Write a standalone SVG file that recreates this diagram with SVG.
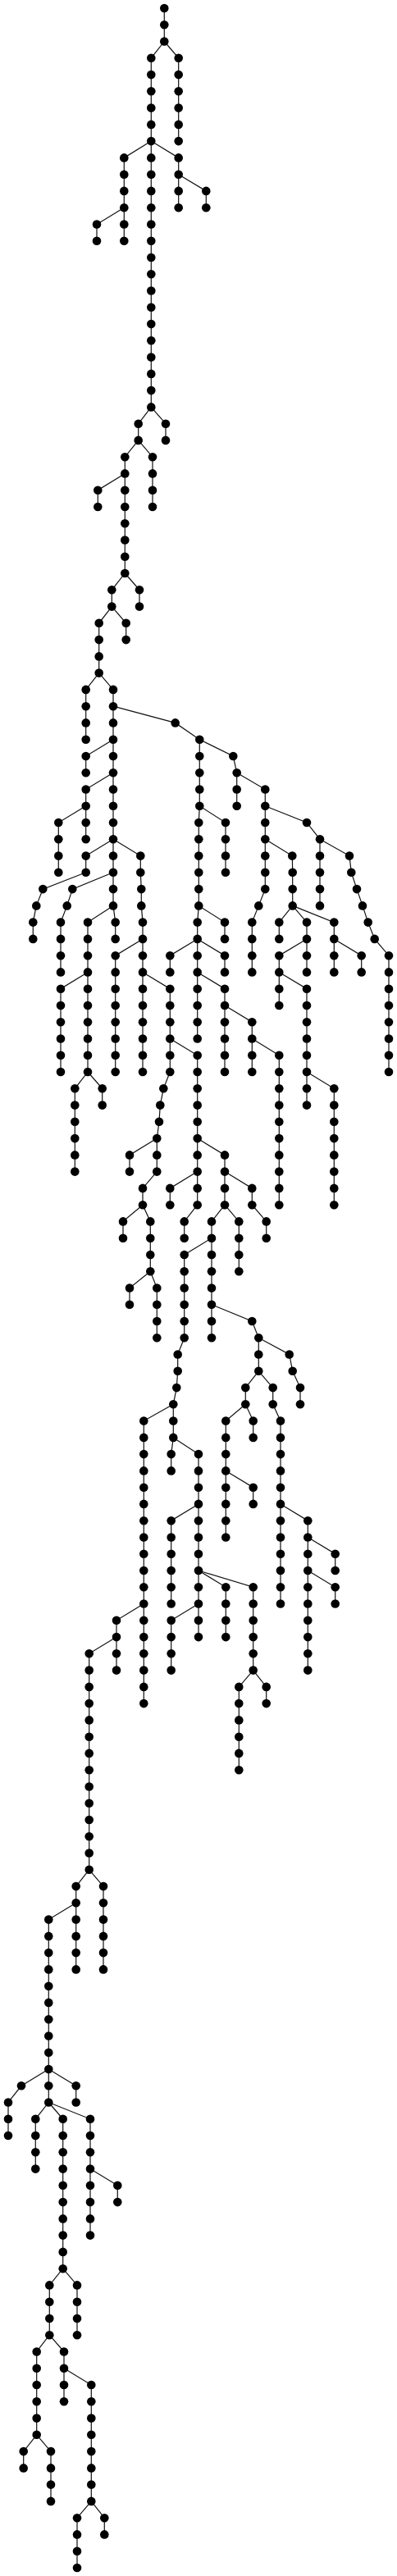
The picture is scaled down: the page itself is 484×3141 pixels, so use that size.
<svg xmlns="http://www.w3.org/2000/svg" width="484" height="3141" viewBox="0 0 484 3141">
<style>
.edges path{fill:none;stroke:#111;stroke-width:1.2}
.nodes circle{r:5.3px;fill:#000}
</style>
<rect width="484" height="3141" fill="#fff"/>
<g class="edges">
<path d="M200.3 10V50.5"/>
<path d="M200.3 50.5L217.7 70.8V172.1"/>
<path d="M200.3 50.5L184.3 70.8V496.4"/>
<path d="M184.3 172.1L151.3 192.4V293.7"/>
<path d="M151.3 253.2L118 273.5V293.7"/>
<path d="M184.3 172.1L217.7 192.4V253.2"/>
<path d="M217.7 212.7L251.3 232.9V253.2"/>
<path d="M184.3 496.4L168.7 516.7V536.9"/>
<path d="M184.3 496.4L202 516.7V536.9"/>
<path d="M168.7 536.9L186 557.2V618"/>
<path d="M168.7 536.9L152.3 557.2V699"/>
<path d="M152.3 577.4L119.3 597.7V618"/>
<path d="M152.3 699L170 719.3V739.6"/>
<path d="M152.3 699L136.3 719.3V739.6"/>
<path d="M136.3 739.6L153.7 759.8V780.1"/>
<path d="M136.3 739.6L120.7 759.8V820.6"/>
<path d="M120.7 820.6L104.7 840.9V901.7"/>
<path d="M120.7 820.6L138 840.9V1104.4"/>
<path d="M138 901.7L104.7 922V942.2"/>
<path d="M138 942.2L104.7 962.5V1023.3"/>
<path d="M104.7 982.8L71.3 1003V1063.8"/>
<path d="M138 1023.3L104.7 1043.6V1063.8"/>
<path d="M138 1023.3L171.3 1043.6V1063.8L172.3 1084.1V1104.4L174 1124.6V1307"/>
<path d="M104.7 1063.8L52.3 1084.1L44.3 1104.4L40.3 1124.6V1144.9"/>
<path d="M138 1063.8L88.3 1084.1L81.7 1104.4L74 1124.6V1185.4"/>
<path d="M138 1104.4L107 1124.6V1307"/>
<path d="M138 1104.4L140.7 1124.6V1144.9"/>
<path d="M107 1185.4L74 1205.7V1307"/>
<path d="M174 1144.9L140.7 1165.2V1307"/>
<path d="M174 1185.4L207.3 1205.7V1307"/>
<path d="M207.3 1266.5L240.7 1286.8V1469.2"/>
<path d="M138 861.2L213.7 881.4L243.3 901.7V982.8L242.3 1003V1104.4L240.7 1124.6V1266.5"/>
<path d="M243.3 901.7L284.3 922L288.7 942.2V982.8"/>
<path d="M288.7 942.2L323.3 962.5V1084.1L315.3 1104.4L307.3 1124.6V1185.4"/>
<path d="M323.3 982.8L374 1003L390 1023.3V1104.4"/>
<path d="M390 1023.3L426 1043.6L428.3 1063.8L435 1084.1L442 1104.4L448.7 1124.6L456.7 1144.9L474 1165.2V1307"/>
<path d="M323.3 1023.3L356.3 1043.6L356.7 1063.8V1104.4"/>
<path d="M243.3 982.8L275 1003V1063.8"/>
<path d="M356.7 1104.4L340.3 1124.6V1144.9"/>
<path d="M356.7 1104.4L374 1124.6V1185.4"/>
<path d="M356.7 1104.4L407.3 1124.6V1185.4"/>
<path d="M407.3 1144.9L440.7 1165.2V1185.4"/>
<path d="M374 1144.9L340.3 1165.2V1226"/>
<path d="M340.3 1185.4L374 1205.7V1347.6"/>
<path d="M242.3 1104.4L274 1124.6V1144.9"/>
<path d="M240.7 1144.9L207.3 1165.2V1185.4"/>
<path d="M240.7 1144.9L274 1165.2V1185.4"/>
<path d="M240.7 1185.4L274 1205.7V1307"/>
<path d="M274 1226L307.3 1246.2V1307"/>
<path d="M307.3 1266.5L340.3 1286.8V1469.2"/>
<path d="M374 1307L407.3 1327.3V1469.2"/>
<path d="M107 1307L91.3 1327.3V1428.6"/>
<path d="M107 1307L124.7 1327.3V1347.6"/>
<path d="M207.3 1307L199.3 1327.3L195.3 1347.6L194 1367.8L191.3 1388.1V1428.6L174 1448.9V1469.2"/>
<path d="M191.3 1388.1L158 1408.4V1428.6"/>
<path d="M174 1469.2L150 1489.4V1509.7"/>
<path d="M174 1469.2L183.3 1489.4V1550.2"/>
<path d="M183.3 1550.2L158 1570.5V1590.7"/>
<path d="M183.3 1550.2L191.3 1570.5V1631.3"/>
<path d="M240.7 1428.6L207.3 1448.9V1469.2"/>
<path d="M240.7 1469.2L224.7 1489.4V1509.7"/>
<path d="M240.7 1388.1L274 1408.4V1469.2"/>
<path d="M274 1428.6L307.3 1448.9V1469.2L324.7 1489.4V1509.7"/>
<path d="M274 1469.2L258 1489.4V1631.3"/>
<path d="M274 1469.2L291.3 1489.4V1550.2"/>
<path d="M258 1509.7L224.7 1530V1631.3L216.7 1651.5V1671.8L215.3 1692.1L211.3 1712.3V1752.9"/>
<path d="M211.3 1712.3L175.3 1732.6V2077.1"/>
<path d="M211.3 1752.9L208.7 1773.1V1793.4"/>
<path d="M211.3 1752.9L242 1773.1V1996.1"/>
<path d="M242 1833.9L208.7 1854.2V1955.5"/>
<path d="M242 1955.5L208.7 1975.8V2036.6"/>
<path d="M242 1915L275.3 1935.3V1996.1"/>
<path d="M242 1915L308.7 1935.3V2036.6"/>
<path d="M308.7 2036.6L291.3 2056.9V2158.2"/>
<path d="M308.7 2036.6L324.7 2056.9V2077.1"/>
<path d="M258 1590.7L307.3 1611L315.3 1631.3V1671.8"/>
<path d="M315.3 1631.3L352.7 1651.5L356.7 1671.8L366 1692.1V1712.3"/>
<path d="M315.3 1671.8L299.3 1692.1V1712.3"/>
<path d="M315.3 1671.8L332.7 1692.1V1712.3L342 1732.6V1955.5"/>
<path d="M299.3 1712.3L275.3 1732.6V1874.5"/>
<path d="M299.3 1712.3L308.7 1732.6V1752.9"/>
<path d="M275.3 1793.4L308.7 1813.7V1833.9"/>
<path d="M342 1833.9L375.3 1854.2V2036.6"/>
<path d="M375.3 1874.5L408.7 1894.7V1915"/>
<path d="M375.3 1915L408.7 1935.3V1955.5"/>
<path d="M175.3 1955.5L142 1975.8V2036.6"/>
<path d="M142 1996.1L108.7 2016.3V2279.8"/>
<path d="M108.7 2279.8L92.7 2300.1V2401.4"/>
<path d="M108.7 2279.8L126 2300.1V2401.4"/>
<path d="M92.7 2320.3L59.3 2340.6V2563.5"/>
<path d="M59.3 2523L26 2543.3L10 2563.5V2604"/>
<path d="M59.3 2523L92.7 2543.3V2563.5"/>
<path d="M59.3 2563.5L43.3 2583.8V2644.6"/>
<path d="M59.3 2563.5L76.7 2583.8V2766.2"/>
<path d="M59.3 2563.5L110 2583.8V2725.6"/>
<path d="M110 2644.6L143.3 2664.8V2685.1"/>
<path d="M76.7 2766.2L60.3 2786.4V2847.2"/>
<path d="M76.7 2766.2L94 2786.4V2847.2"/>
<path d="M60.3 2847.2L44.7 2867.5V2968.8"/>
<path d="M60.3 2847.2L78 2867.5V2928.3"/>
<path d="M44.7 2968.8L28.7 2989.1V3009.4"/>
<path d="M44.7 2968.8L62 2989.1V3049.9"/>
<path d="M78 2887.8L111.3 2908V3049.9"/>
<path d="M111.3 3049.9L94 3070.2V3131"/>
<path d="M111.3 3049.9L127.3 3070.2V3090.4"/>
</g>
<g class="nodes">
<g id="c1a"><circle cx="200.3" cy="10"/></g><g id="c1b"><circle cx="200.3" cy="30.3"/></g><g id="c1c"><circle cx="200.3" cy="50.5"/></g>
<g id="c2a"><circle cx="217.7" cy="70.8"/></g><g id="c2b"><circle cx="217.7" cy="91.1"/></g><g id="c2c"><circle cx="217.7" cy="111.3"/></g><g id="c2d"><circle cx="217.7" cy="131.6"/></g><g id="c2e"><circle cx="217.7" cy="151.9"/></g><g id="c2f"><circle cx="217.7" cy="172.1"/></g>
<g id="c3a"><circle cx="184.3" cy="70.8"/></g><g id="c3b"><circle cx="184.3" cy="91.1"/></g><g id="c3c"><circle cx="184.3" cy="111.3"/></g><g id="c3d"><circle cx="184.3" cy="131.6"/></g><g id="c3e"><circle cx="184.3" cy="151.9"/></g><g id="c3f"><circle cx="184.3" cy="172.1"/></g><g id="c3g"><circle cx="184.3" cy="192.4"/></g><g id="c3h"><circle cx="184.3" cy="212.7"/></g><g id="c3i"><circle cx="184.3" cy="232.9"/></g><g id="c3j"><circle cx="184.3" cy="253.2"/></g><g id="c3k"><circle cx="184.3" cy="273.5"/></g><g id="c3l"><circle cx="184.3" cy="293.7"/></g><g id="c3m"><circle cx="184.3" cy="314"/></g><g id="c3n"><circle cx="184.3" cy="334.3"/></g><g id="c3o"><circle cx="184.3" cy="354.5"/></g><g id="c3p"><circle cx="184.3" cy="374.8"/></g><g id="c3q"><circle cx="184.3" cy="395.1"/></g><g id="c3r"><circle cx="184.3" cy="415.3"/></g><g id="c3s"><circle cx="184.3" cy="435.6"/></g><g id="c3t"><circle cx="184.3" cy="455.9"/></g><g id="c3u"><circle cx="184.3" cy="476.1"/></g><g id="c3v"><circle cx="184.3" cy="496.4"/></g>
<g id="c4a"><circle cx="151.3" cy="192.4"/></g><g id="c4b"><circle cx="151.3" cy="212.7"/></g><g id="c4c"><circle cx="151.3" cy="232.9"/></g><g id="c4d"><circle cx="151.3" cy="253.2"/></g><g id="c4e"><circle cx="151.3" cy="273.5"/></g><g id="c4f"><circle cx="151.3" cy="293.7"/></g>
<g id="c5a"><circle cx="118" cy="273.5"/></g><g id="c5b"><circle cx="118" cy="293.7"/></g>
<g id="c6a"><circle cx="217.7" cy="192.4"/></g><g id="c6b"><circle cx="217.7" cy="212.7"/></g><g id="c6c"><circle cx="217.7" cy="232.9"/></g><g id="c6d"><circle cx="217.7" cy="253.2"/></g>
<g id="c7a"><circle cx="251.3" cy="232.9"/></g><g id="c7b"><circle cx="251.3" cy="253.2"/></g>
<g id="c8a"><circle cx="168.7" cy="516.7"/></g><g id="c8b"><circle cx="168.7" cy="536.9"/></g>
<g id="c9a"><circle cx="202" cy="516.7"/></g><g id="c9b"><circle cx="202" cy="536.9"/></g>
<g id="c10a"><circle cx="186" cy="557.2"/></g><g id="c10b"><circle cx="186" cy="577.4"/></g><g id="c10c"><circle cx="186" cy="597.7"/></g><g id="c10d"><circle cx="186" cy="618"/></g>
<g id="c11a"><circle cx="152.3" cy="557.2"/></g><g id="c11b"><circle cx="152.3" cy="577.4"/></g><g id="c11c"><circle cx="152.3" cy="597.7"/></g><g id="c11d"><circle cx="152.3" cy="618"/></g><g id="c11e"><circle cx="152.3" cy="638.2"/></g><g id="c11f"><circle cx="152.3" cy="658.5"/></g><g id="c11g"><circle cx="152.3" cy="678.8"/></g><g id="c11h"><circle cx="152.3" cy="699"/></g>
<g id="c12a"><circle cx="119.3" cy="597.7"/></g><g id="c12b"><circle cx="119.3" cy="618"/></g>
<g id="c13a"><circle cx="170" cy="719.3"/></g><g id="c13b"><circle cx="170" cy="739.6"/></g>
<g id="c14a"><circle cx="136.3" cy="719.3"/></g><g id="c14b"><circle cx="136.3" cy="739.6"/></g>
<g id="c15a"><circle cx="153.7" cy="759.8"/></g><g id="c15b"><circle cx="153.7" cy="780.1"/></g>
<g id="c16a"><circle cx="120.7" cy="759.8"/></g><g id="c16b"><circle cx="120.7" cy="780.1"/></g><g id="c16c"><circle cx="120.7" cy="800.4"/></g><g id="c16d"><circle cx="120.7" cy="820.6"/></g>
<g id="c17a"><circle cx="104.7" cy="840.9"/></g><g id="c17b"><circle cx="104.7" cy="861.2"/></g><g id="c17c"><circle cx="104.7" cy="881.4"/></g><g id="c17d"><circle cx="104.7" cy="901.7"/></g>
<g id="c18a"><circle cx="138" cy="840.9"/></g><g id="c18b"><circle cx="138" cy="861.2"/></g><g id="c18c"><circle cx="138" cy="881.4"/></g><g id="c18d"><circle cx="138" cy="901.7"/></g><g id="c18e"><circle cx="138" cy="922"/></g><g id="c18f"><circle cx="138" cy="942.2"/></g><g id="c18g"><circle cx="138" cy="962.5"/></g><g id="c18h"><circle cx="138" cy="982.8"/></g><g id="c18i"><circle cx="138" cy="1003"/></g><g id="c18j"><circle cx="138" cy="1023.3"/></g><g id="c18k"><circle cx="138" cy="1043.6"/></g><g id="c18l"><circle cx="138" cy="1063.8"/></g><g id="c18m"><circle cx="138" cy="1084.1"/></g><g id="c18n"><circle cx="138" cy="1104.4"/></g>
<g id="c19a"><circle cx="104.7" cy="922"/></g><g id="c19b"><circle cx="104.7" cy="942.2"/></g>
<g id="c20a"><circle cx="104.7" cy="962.5"/></g><g id="c20b"><circle cx="104.7" cy="982.8"/></g><g id="c20c"><circle cx="104.7" cy="1003"/></g><g id="c20d"><circle cx="104.7" cy="1023.3"/></g>
<g id="c21a"><circle cx="71.3" cy="1003"/></g><g id="c21b"><circle cx="71.3" cy="1023.3"/></g><g id="c21c"><circle cx="71.3" cy="1043.6"/></g><g id="c21d"><circle cx="71.3" cy="1063.8"/></g>
<g id="c22a"><circle cx="104.7" cy="1043.6"/></g><g id="c22b"><circle cx="104.7" cy="1063.8"/></g>
<g id="c23a"><circle cx="171.3" cy="1043.6"/></g><g id="c23b"><circle cx="171.3" cy="1063.8"/></g><g id="c23c"><circle cx="172.3" cy="1084.1"/></g><g id="c23d"><circle cx="172.3" cy="1104.4"/></g><g id="c23e"><circle cx="174" cy="1124.6"/></g><g id="c23f"><circle cx="174" cy="1144.9"/></g><g id="c23g"><circle cx="174" cy="1165.2"/></g><g id="c23h"><circle cx="174" cy="1185.4"/></g><g id="c23i"><circle cx="174" cy="1205.7"/></g><g id="c23j"><circle cx="174" cy="1226"/></g><g id="c23k"><circle cx="174" cy="1246.2"/></g><g id="c23l"><circle cx="174" cy="1266.5"/></g><g id="c23m"><circle cx="174" cy="1286.8"/></g><g id="c23n"><circle cx="174" cy="1307"/></g>
<g id="c24a"><circle cx="52.3" cy="1084.1"/></g><g id="c24b"><circle cx="44.3" cy="1104.4"/></g><g id="c24c"><circle cx="40.3" cy="1124.6"/></g><g id="c24d"><circle cx="40.3" cy="1144.9"/></g>
<g id="c25a"><circle cx="88.3" cy="1084.1"/></g><g id="c25b"><circle cx="81.7" cy="1104.4"/></g><g id="c25c"><circle cx="74" cy="1124.6"/></g><g id="c25d"><circle cx="74" cy="1144.9"/></g><g id="c25e"><circle cx="74" cy="1165.2"/></g><g id="c25f"><circle cx="74" cy="1185.4"/></g>
<g id="c26a"><circle cx="107" cy="1124.6"/></g><g id="c26b"><circle cx="107" cy="1144.9"/></g><g id="c26c"><circle cx="107" cy="1165.2"/></g><g id="c26d"><circle cx="107" cy="1185.4"/></g><g id="c26e"><circle cx="107" cy="1205.7"/></g><g id="c26f"><circle cx="107" cy="1226"/></g><g id="c26g"><circle cx="107" cy="1246.2"/></g><g id="c26h"><circle cx="107" cy="1266.5"/></g><g id="c26i"><circle cx="107" cy="1286.8"/></g><g id="c26j"><circle cx="107" cy="1307"/></g>
<g id="c27a"><circle cx="140.7" cy="1124.6"/></g><g id="c27b"><circle cx="140.7" cy="1144.9"/></g>
<g id="c28a"><circle cx="74" cy="1205.7"/></g><g id="c28b"><circle cx="74" cy="1226"/></g><g id="c28c"><circle cx="74" cy="1246.2"/></g><g id="c28d"><circle cx="74" cy="1266.5"/></g><g id="c28e"><circle cx="74" cy="1286.8"/></g><g id="c28f"><circle cx="74" cy="1307"/></g>
<g id="c29a"><circle cx="140.7" cy="1165.2"/></g><g id="c29b"><circle cx="140.7" cy="1185.4"/></g><g id="c29c"><circle cx="140.7" cy="1205.7"/></g><g id="c29d"><circle cx="140.7" cy="1226"/></g><g id="c29e"><circle cx="140.7" cy="1246.2"/></g><g id="c29f"><circle cx="140.7" cy="1266.5"/></g><g id="c29g"><circle cx="140.7" cy="1286.8"/></g><g id="c29h"><circle cx="140.7" cy="1307"/></g>
<g id="c30a"><circle cx="207.3" cy="1205.7"/></g><g id="c30b"><circle cx="207.3" cy="1226"/></g><g id="c30c"><circle cx="207.3" cy="1246.2"/></g><g id="c30d"><circle cx="207.3" cy="1266.5"/></g><g id="c30e"><circle cx="207.3" cy="1286.8"/></g><g id="c30f"><circle cx="207.3" cy="1307"/></g>
<g id="c31a"><circle cx="240.7" cy="1286.8"/></g><g id="c31b"><circle cx="240.7" cy="1307"/></g><g id="c31c"><circle cx="240.7" cy="1327.3"/></g><g id="c31d"><circle cx="240.7" cy="1347.6"/></g><g id="c31e"><circle cx="240.7" cy="1367.8"/></g><g id="c31f"><circle cx="240.7" cy="1388.1"/></g><g id="c31g"><circle cx="240.7" cy="1408.4"/></g><g id="c31h"><circle cx="240.7" cy="1428.6"/></g><g id="c31i"><circle cx="240.7" cy="1448.9"/></g><g id="c31j"><circle cx="240.7" cy="1469.2"/></g>
<g id="c32a"><circle cx="213.7" cy="881.4"/></g><g id="c32b"><circle cx="243.3" cy="901.7"/></g><g id="c32c"><circle cx="243.3" cy="922"/></g><g id="c32d"><circle cx="243.3" cy="942.2"/></g><g id="c32e"><circle cx="243.3" cy="962.5"/></g><g id="c32f"><circle cx="243.3" cy="982.8"/></g><g id="c32g"><circle cx="242.3" cy="1003"/></g><g id="c32h"><circle cx="242.3" cy="1023.3"/></g><g id="c32i"><circle cx="242.3" cy="1043.6"/></g><g id="c32j"><circle cx="242.3" cy="1063.8"/></g><g id="c32k"><circle cx="242.3" cy="1084.1"/></g><g id="c32l"><circle cx="242.3" cy="1104.4"/></g><g id="c32m"><circle cx="240.7" cy="1124.6"/></g><g id="c32n"><circle cx="240.7" cy="1144.9"/></g><g id="c32o"><circle cx="240.7" cy="1165.2"/></g><g id="c32p"><circle cx="240.7" cy="1185.4"/></g><g id="c32q"><circle cx="240.7" cy="1205.7"/></g><g id="c32r"><circle cx="240.7" cy="1226"/></g><g id="c32s"><circle cx="240.7" cy="1246.2"/></g><g id="c32t"><circle cx="240.7" cy="1266.5"/></g>
<g id="c33a"><circle cx="284.3" cy="922"/></g><g id="c33b"><circle cx="288.7" cy="942.2"/></g><g id="c33c"><circle cx="288.7" cy="962.5"/></g><g id="c33d"><circle cx="288.7" cy="982.8"/></g>
<g id="c34a"><circle cx="323.3" cy="962.5"/></g><g id="c34b"><circle cx="323.3" cy="982.8"/></g><g id="c34c"><circle cx="323.3" cy="1003"/></g><g id="c34d"><circle cx="323.3" cy="1023.3"/></g><g id="c34e"><circle cx="323.3" cy="1043.6"/></g><g id="c34f"><circle cx="323.3" cy="1063.8"/></g><g id="c34g"><circle cx="323.3" cy="1084.1"/></g><g id="c34h"><circle cx="315.3" cy="1104.4"/></g><g id="c34i"><circle cx="307.3" cy="1124.6"/></g><g id="c34j"><circle cx="307.3" cy="1144.9"/></g><g id="c34k"><circle cx="307.3" cy="1165.2"/></g><g id="c34l"><circle cx="307.3" cy="1185.4"/></g>
<g id="c35a"><circle cx="374" cy="1003"/></g><g id="c35b"><circle cx="390" cy="1023.3"/></g><g id="c35c"><circle cx="390" cy="1043.6"/></g><g id="c35d"><circle cx="390" cy="1063.8"/></g><g id="c35e"><circle cx="390" cy="1084.1"/></g><g id="c35f"><circle cx="390" cy="1104.4"/></g>
<g id="c36a"><circle cx="426" cy="1043.6"/></g><g id="c36b"><circle cx="428.3" cy="1063.8"/></g><g id="c36c"><circle cx="435" cy="1084.1"/></g><g id="c36d"><circle cx="442" cy="1104.4"/></g><g id="c36e"><circle cx="448.7" cy="1124.6"/></g><g id="c36f"><circle cx="456.7" cy="1144.9"/></g><g id="c36g"><circle cx="474" cy="1165.2"/></g><g id="c36h"><circle cx="474" cy="1185.4"/></g><g id="c36i"><circle cx="474" cy="1205.7"/></g><g id="c36j"><circle cx="474" cy="1226"/></g><g id="c36k"><circle cx="474" cy="1246.2"/></g><g id="c36l"><circle cx="474" cy="1266.5"/></g><g id="c36m"><circle cx="474" cy="1286.8"/></g><g id="c36n"><circle cx="474" cy="1307"/></g>
<g id="c37a"><circle cx="356.3" cy="1043.6"/></g><g id="c37b"><circle cx="356.7" cy="1063.8"/></g><g id="c37c"><circle cx="356.7" cy="1084.1"/></g><g id="c37d"><circle cx="356.7" cy="1104.4"/></g>
<g id="c38a"><circle cx="275" cy="1003"/></g><g id="c38b"><circle cx="275" cy="1023.3"/></g><g id="c38c"><circle cx="275" cy="1043.6"/></g><g id="c38d"><circle cx="275" cy="1063.8"/></g>
<g id="c39a"><circle cx="340.3" cy="1124.6"/></g><g id="c39b"><circle cx="340.3" cy="1144.9"/></g>
<g id="c40a"><circle cx="374" cy="1124.6"/></g><g id="c40b"><circle cx="374" cy="1144.9"/></g><g id="c40c"><circle cx="374" cy="1165.2"/></g><g id="c40d"><circle cx="374" cy="1185.4"/></g>
<g id="c41a"><circle cx="407.3" cy="1124.6"/></g><g id="c41b"><circle cx="407.3" cy="1144.9"/></g><g id="c41c"><circle cx="407.3" cy="1165.2"/></g><g id="c41d"><circle cx="407.3" cy="1185.4"/></g>
<g id="c42a"><circle cx="440.7" cy="1165.2"/></g><g id="c42b"><circle cx="440.7" cy="1185.4"/></g>
<g id="c43a"><circle cx="340.3" cy="1165.2"/></g><g id="c43b"><circle cx="340.3" cy="1185.4"/></g><g id="c43c"><circle cx="340.3" cy="1205.7"/></g><g id="c43d"><circle cx="340.3" cy="1226"/></g>
<g id="c44a"><circle cx="374" cy="1205.7"/></g><g id="c44b"><circle cx="374" cy="1226"/></g><g id="c44c"><circle cx="374" cy="1246.2"/></g><g id="c44d"><circle cx="374" cy="1266.5"/></g><g id="c44e"><circle cx="374" cy="1286.8"/></g><g id="c44f"><circle cx="374" cy="1307"/></g><g id="c44g"><circle cx="374" cy="1327.3"/></g><g id="c44h"><circle cx="374" cy="1347.6"/></g>
<g id="c45a"><circle cx="274" cy="1124.6"/></g><g id="c45b"><circle cx="274" cy="1144.9"/></g>
<g id="c46a"><circle cx="207.3" cy="1165.2"/></g><g id="c46b"><circle cx="207.3" cy="1185.4"/></g>
<g id="c47a"><circle cx="274" cy="1165.2"/></g><g id="c47b"><circle cx="274" cy="1185.4"/></g>
<g id="c48a"><circle cx="274" cy="1205.7"/></g><g id="c48b"><circle cx="274" cy="1226"/></g><g id="c48c"><circle cx="274" cy="1246.2"/></g><g id="c48d"><circle cx="274" cy="1266.5"/></g><g id="c48e"><circle cx="274" cy="1286.8"/></g><g id="c48f"><circle cx="274" cy="1307"/></g>
<g id="c49a"><circle cx="307.3" cy="1246.2"/></g><g id="c49b"><circle cx="307.3" cy="1266.5"/></g><g id="c49c"><circle cx="307.3" cy="1286.8"/></g><g id="c49d"><circle cx="307.3" cy="1307"/></g>
<g id="c50a"><circle cx="340.3" cy="1286.8"/></g><g id="c50b"><circle cx="340.3" cy="1307"/></g><g id="c50c"><circle cx="340.3" cy="1327.3"/></g><g id="c50d"><circle cx="340.3" cy="1347.6"/></g><g id="c50e"><circle cx="340.3" cy="1367.8"/></g><g id="c50f"><circle cx="340.3" cy="1388.1"/></g><g id="c50g"><circle cx="340.3" cy="1408.4"/></g><g id="c50h"><circle cx="340.3" cy="1428.6"/></g><g id="c50i"><circle cx="340.3" cy="1448.9"/></g><g id="c50j"><circle cx="340.3" cy="1469.2"/></g>
<g id="c51a"><circle cx="407.3" cy="1327.3"/></g><g id="c51b"><circle cx="407.3" cy="1347.6"/></g><g id="c51c"><circle cx="407.3" cy="1367.8"/></g><g id="c51d"><circle cx="407.3" cy="1388.1"/></g><g id="c51e"><circle cx="407.3" cy="1408.4"/></g><g id="c51f"><circle cx="407.3" cy="1428.6"/></g><g id="c51g"><circle cx="407.3" cy="1448.9"/></g><g id="c51h"><circle cx="407.3" cy="1469.2"/></g>
<g id="c52a"><circle cx="91.3" cy="1327.3"/></g><g id="c52b"><circle cx="91.3" cy="1347.6"/></g><g id="c52c"><circle cx="91.3" cy="1367.8"/></g><g id="c52d"><circle cx="91.3" cy="1388.1"/></g><g id="c52e"><circle cx="91.3" cy="1408.4"/></g><g id="c52f"><circle cx="91.3" cy="1428.6"/></g>
<g id="c53a"><circle cx="124.7" cy="1327.3"/></g><g id="c53b"><circle cx="124.7" cy="1347.6"/></g>
<g id="c54a"><circle cx="199.3" cy="1327.3"/></g><g id="c54b"><circle cx="195.3" cy="1347.6"/></g><g id="c54c"><circle cx="194" cy="1367.8"/></g><g id="c54d"><circle cx="191.3" cy="1388.1"/></g><g id="c54e"><circle cx="191.3" cy="1408.4"/></g><g id="c54f"><circle cx="191.3" cy="1428.6"/></g><g id="c54g"><circle cx="174" cy="1448.9"/></g><g id="c54h"><circle cx="174" cy="1469.2"/></g>
<g id="c55a"><circle cx="158" cy="1408.4"/></g><g id="c55b"><circle cx="158" cy="1428.6"/></g>
<g id="c56a"><circle cx="150" cy="1489.4"/></g><g id="c56b"><circle cx="150" cy="1509.7"/></g>
<g id="c57a"><circle cx="183.3" cy="1489.4"/></g><g id="c57b"><circle cx="183.3" cy="1509.7"/></g><g id="c57c"><circle cx="183.3" cy="1530"/></g><g id="c57d"><circle cx="183.3" cy="1550.2"/></g>
<g id="c58a"><circle cx="158" cy="1570.5"/></g><g id="c58b"><circle cx="158" cy="1590.7"/></g>
<g id="c59a"><circle cx="191.3" cy="1570.5"/></g><g id="c59b"><circle cx="191.3" cy="1590.7"/></g><g id="c59c"><circle cx="191.3" cy="1611"/></g><g id="c59d"><circle cx="191.3" cy="1631.3"/></g>
<g id="c60a"><circle cx="207.3" cy="1448.9"/></g><g id="c60b"><circle cx="207.3" cy="1469.2"/></g>
<g id="c61a"><circle cx="224.7" cy="1489.4"/></g><g id="c61b"><circle cx="224.7" cy="1509.7"/></g>
<g id="c62a"><circle cx="274" cy="1408.4"/></g><g id="c62b"><circle cx="274" cy="1428.6"/></g><g id="c62c"><circle cx="274" cy="1448.9"/></g><g id="c62d"><circle cx="274" cy="1469.2"/></g>
<g id="c63a"><circle cx="307.3" cy="1448.9"/></g><g id="c63b"><circle cx="307.3" cy="1469.2"/></g><g id="c63c"><circle cx="324.7" cy="1489.4"/></g><g id="c63d"><circle cx="324.7" cy="1509.7"/></g>
<g id="c64a"><circle cx="258" cy="1489.4"/></g><g id="c64b"><circle cx="258" cy="1509.7"/></g><g id="c64c"><circle cx="258" cy="1530"/></g><g id="c64d"><circle cx="258" cy="1550.2"/></g><g id="c64e"><circle cx="258" cy="1570.5"/></g><g id="c64f"><circle cx="258" cy="1590.7"/></g><g id="c64g"><circle cx="258" cy="1611"/></g><g id="c64h"><circle cx="258" cy="1631.3"/></g>
<g id="c65a"><circle cx="291.3" cy="1489.4"/></g><g id="c65b"><circle cx="291.3" cy="1509.7"/></g><g id="c65c"><circle cx="291.3" cy="1530"/></g><g id="c65d"><circle cx="291.3" cy="1550.2"/></g>
<g id="c66a"><circle cx="224.7" cy="1530"/></g><g id="c66b"><circle cx="224.7" cy="1550.2"/></g><g id="c66c"><circle cx="224.7" cy="1570.5"/></g><g id="c66d"><circle cx="224.7" cy="1590.7"/></g><g id="c66e"><circle cx="224.7" cy="1611"/></g><g id="c66f"><circle cx="224.7" cy="1631.3"/></g><g id="c66g"><circle cx="216.7" cy="1651.5"/></g><g id="c66h"><circle cx="216.7" cy="1671.8"/></g><g id="c66i"><circle cx="215.3" cy="1692.1"/></g><g id="c66j"><circle cx="211.3" cy="1712.3"/></g><g id="c66k"><circle cx="211.3" cy="1732.6"/></g><g id="c66l"><circle cx="211.3" cy="1752.9"/></g>
<g id="c67a"><circle cx="175.3" cy="1732.6"/></g><g id="c67b"><circle cx="175.3" cy="1752.9"/></g><g id="c67c"><circle cx="175.3" cy="1773.1"/></g><g id="c67d"><circle cx="175.3" cy="1793.4"/></g><g id="c67e"><circle cx="175.3" cy="1813.7"/></g><g id="c67f"><circle cx="175.3" cy="1833.9"/></g><g id="c67g"><circle cx="175.3" cy="1854.2"/></g><g id="c67h"><circle cx="175.3" cy="1874.5"/></g><g id="c67i"><circle cx="175.3" cy="1894.7"/></g><g id="c67j"><circle cx="175.3" cy="1915"/></g><g id="c67k"><circle cx="175.3" cy="1935.3"/></g><g id="c67l"><circle cx="175.3" cy="1955.5"/></g><g id="c67m"><circle cx="175.3" cy="1975.8"/></g><g id="c67n"><circle cx="175.3" cy="1996.1"/></g><g id="c67o"><circle cx="175.3" cy="2016.3"/></g><g id="c67p"><circle cx="175.3" cy="2036.6"/></g><g id="c67q"><circle cx="175.3" cy="2056.9"/></g><g id="c67r"><circle cx="175.3" cy="2077.1"/></g>
<g id="c68a"><circle cx="208.7" cy="1773.1"/></g><g id="c68b"><circle cx="208.7" cy="1793.4"/></g>
<g id="c69a"><circle cx="242" cy="1773.1"/></g><g id="c69b"><circle cx="242" cy="1793.4"/></g><g id="c69c"><circle cx="242" cy="1813.7"/></g><g id="c69d"><circle cx="242" cy="1833.9"/></g><g id="c69e"><circle cx="242" cy="1854.2"/></g><g id="c69f"><circle cx="242" cy="1874.5"/></g><g id="c69g"><circle cx="242" cy="1894.7"/></g><g id="c69h"><circle cx="242" cy="1915"/></g><g id="c69i"><circle cx="242" cy="1935.3"/></g><g id="c69j"><circle cx="242" cy="1955.5"/></g><g id="c69k"><circle cx="242" cy="1975.8"/></g><g id="c69l"><circle cx="242" cy="1996.1"/></g>
<g id="c70a"><circle cx="208.7" cy="1854.2"/></g><g id="c70b"><circle cx="208.7" cy="1874.5"/></g><g id="c70c"><circle cx="208.7" cy="1894.7"/></g><g id="c70d"><circle cx="208.7" cy="1915"/></g><g id="c70e"><circle cx="208.7" cy="1935.3"/></g><g id="c70f"><circle cx="208.7" cy="1955.5"/></g>
<g id="c71a"><circle cx="208.7" cy="1975.8"/></g><g id="c71b"><circle cx="208.7" cy="1996.1"/></g><g id="c71c"><circle cx="208.7" cy="2016.3"/></g><g id="c71d"><circle cx="208.7" cy="2036.6"/></g>
<g id="c72a"><circle cx="275.3" cy="1935.3"/></g><g id="c72b"><circle cx="275.3" cy="1955.5"/></g><g id="c72c"><circle cx="275.3" cy="1975.8"/></g><g id="c72d"><circle cx="275.3" cy="1996.1"/></g>
<g id="c73a"><circle cx="308.7" cy="1935.3"/></g><g id="c73b"><circle cx="308.7" cy="1955.5"/></g><g id="c73c"><circle cx="308.7" cy="1975.8"/></g><g id="c73d"><circle cx="308.7" cy="1996.1"/></g><g id="c73e"><circle cx="308.7" cy="2016.3"/></g><g id="c73f"><circle cx="308.7" cy="2036.6"/></g>
<g id="c74a"><circle cx="291.3" cy="2056.9"/></g><g id="c74b"><circle cx="291.3" cy="2077.1"/></g><g id="c74c"><circle cx="291.3" cy="2097.4"/></g><g id="c74d"><circle cx="291.3" cy="2117.7"/></g><g id="c74e"><circle cx="291.3" cy="2137.9"/></g><g id="c74f"><circle cx="291.3" cy="2158.2"/></g>
<g id="c75a"><circle cx="324.7" cy="2056.9"/></g><g id="c75b"><circle cx="324.7" cy="2077.1"/></g>
<g id="c76a"><circle cx="307.3" cy="1611"/></g><g id="c76b"><circle cx="315.3" cy="1631.3"/></g><g id="c76c"><circle cx="315.3" cy="1651.5"/></g><g id="c76d"><circle cx="315.3" cy="1671.8"/></g>
<g id="c77a"><circle cx="352.7" cy="1651.5"/></g><g id="c77b"><circle cx="356.7" cy="1671.8"/></g><g id="c77c"><circle cx="366" cy="1692.1"/></g><g id="c77d"><circle cx="366" cy="1712.3"/></g>
<g id="c78a"><circle cx="299.3" cy="1692.1"/></g><g id="c78b"><circle cx="299.3" cy="1712.3"/></g>
<g id="c79a"><circle cx="332.7" cy="1692.1"/></g><g id="c79b"><circle cx="332.7" cy="1712.3"/></g><g id="c79c"><circle cx="342" cy="1732.6"/></g><g id="c79d"><circle cx="342" cy="1752.9"/></g><g id="c79e"><circle cx="342" cy="1773.1"/></g><g id="c79f"><circle cx="342" cy="1793.4"/></g><g id="c79g"><circle cx="342" cy="1813.7"/></g><g id="c79h"><circle cx="342" cy="1833.9"/></g><g id="c79i"><circle cx="342" cy="1854.2"/></g><g id="c79j"><circle cx="342" cy="1874.5"/></g><g id="c79k"><circle cx="342" cy="1894.7"/></g><g id="c79l"><circle cx="342" cy="1915"/></g><g id="c79m"><circle cx="342" cy="1935.3"/></g><g id="c79n"><circle cx="342" cy="1955.5"/></g>
<g id="c80a"><circle cx="275.3" cy="1732.6"/></g><g id="c80b"><circle cx="275.3" cy="1752.9"/></g><g id="c80c"><circle cx="275.3" cy="1773.1"/></g><g id="c80d"><circle cx="275.3" cy="1793.4"/></g><g id="c80e"><circle cx="275.3" cy="1813.7"/></g><g id="c80f"><circle cx="275.3" cy="1833.9"/></g><g id="c80g"><circle cx="275.3" cy="1854.2"/></g><g id="c80h"><circle cx="275.3" cy="1874.5"/></g>
<g id="c81a"><circle cx="308.7" cy="1732.6"/></g><g id="c81b"><circle cx="308.7" cy="1752.9"/></g>
<g id="c82a"><circle cx="308.7" cy="1813.7"/></g><g id="c82b"><circle cx="308.7" cy="1833.9"/></g>
<g id="c83a"><circle cx="375.3" cy="1854.2"/></g><g id="c83b"><circle cx="375.3" cy="1874.5"/></g><g id="c83c"><circle cx="375.3" cy="1894.7"/></g><g id="c83d"><circle cx="375.3" cy="1915"/></g><g id="c83e"><circle cx="375.3" cy="1935.3"/></g><g id="c83f"><circle cx="375.3" cy="1955.5"/></g><g id="c83g"><circle cx="375.3" cy="1975.8"/></g><g id="c83h"><circle cx="375.3" cy="1996.1"/></g><g id="c83i"><circle cx="375.3" cy="2016.3"/></g><g id="c83j"><circle cx="375.3" cy="2036.6"/></g>
<g id="c84a"><circle cx="408.7" cy="1894.7"/></g><g id="c84b"><circle cx="408.7" cy="1915"/></g>
<g id="c85a"><circle cx="408.7" cy="1935.3"/></g><g id="c85b"><circle cx="408.7" cy="1955.5"/></g>
<g id="c86a"><circle cx="142" cy="1975.8"/></g><g id="c86b"><circle cx="142" cy="1996.1"/></g><g id="c86c"><circle cx="142" cy="2016.3"/></g><g id="c86d"><circle cx="142" cy="2036.6"/></g>
<g id="c87a"><circle cx="108.7" cy="2016.3"/></g><g id="c87b"><circle cx="108.7" cy="2036.6"/></g><g id="c87c"><circle cx="108.7" cy="2056.9"/></g><g id="c87d"><circle cx="108.7" cy="2077.1"/></g><g id="c87e"><circle cx="108.7" cy="2097.4"/></g><g id="c87f"><circle cx="108.7" cy="2117.7"/></g><g id="c87g"><circle cx="108.7" cy="2137.9"/></g><g id="c87h"><circle cx="108.7" cy="2158.2"/></g><g id="c87i"><circle cx="108.7" cy="2178.5"/></g><g id="c87j"><circle cx="108.7" cy="2198.7"/></g><g id="c87k"><circle cx="108.7" cy="2219"/></g><g id="c87l"><circle cx="108.7" cy="2239.3"/></g><g id="c87m"><circle cx="108.7" cy="2259.5"/></g><g id="c87n"><circle cx="108.7" cy="2279.8"/></g>
<g id="c88a"><circle cx="92.7" cy="2300.1"/></g><g id="c88b"><circle cx="92.7" cy="2320.3"/></g><g id="c88c"><circle cx="92.7" cy="2340.6"/></g><g id="c88d"><circle cx="92.7" cy="2360.9"/></g><g id="c88e"><circle cx="92.7" cy="2381.1"/></g><g id="c88f"><circle cx="92.7" cy="2401.4"/></g>
<g id="c89a"><circle cx="126" cy="2300.1"/></g><g id="c89b"><circle cx="126" cy="2320.3"/></g><g id="c89c"><circle cx="126" cy="2340.6"/></g><g id="c89d"><circle cx="126" cy="2360.9"/></g><g id="c89e"><circle cx="126" cy="2381.1"/></g><g id="c89f"><circle cx="126" cy="2401.4"/></g>
<g id="c90a"><circle cx="59.3" cy="2340.6"/></g><g id="c90b"><circle cx="59.3" cy="2360.9"/></g><g id="c90c"><circle cx="59.3" cy="2381.1"/></g><g id="c90d"><circle cx="59.3" cy="2401.4"/></g><g id="c90e"><circle cx="59.3" cy="2421.7"/></g><g id="c90f"><circle cx="59.3" cy="2441.9"/></g><g id="c90g"><circle cx="59.3" cy="2462.2"/></g><g id="c90h"><circle cx="59.3" cy="2482.5"/></g><g id="c90i"><circle cx="59.3" cy="2502.7"/></g><g id="c90j"><circle cx="59.3" cy="2523"/></g><g id="c90k"><circle cx="59.3" cy="2543.3"/></g><g id="c90l"><circle cx="59.3" cy="2563.5"/></g>
<g id="c91a"><circle cx="26" cy="2543.3"/></g><g id="c91b"><circle cx="10" cy="2563.5"/></g><g id="c91c"><circle cx="10" cy="2583.8"/></g><g id="c91d"><circle cx="10" cy="2604"/></g>
<g id="c92a"><circle cx="92.7" cy="2543.3"/></g><g id="c92b"><circle cx="92.7" cy="2563.5"/></g>
<g id="c93a"><circle cx="43.3" cy="2583.8"/></g><g id="c93b"><circle cx="43.3" cy="2604"/></g><g id="c93c"><circle cx="43.3" cy="2624.3"/></g><g id="c93d"><circle cx="43.3" cy="2644.6"/></g>
<g id="c94a"><circle cx="76.7" cy="2583.8"/></g><g id="c94b"><circle cx="76.7" cy="2604"/></g><g id="c94c"><circle cx="76.7" cy="2624.3"/></g><g id="c94d"><circle cx="76.7" cy="2644.6"/></g><g id="c94e"><circle cx="76.7" cy="2664.8"/></g><g id="c94f"><circle cx="76.7" cy="2685.1"/></g><g id="c94g"><circle cx="76.7" cy="2705.4"/></g><g id="c94h"><circle cx="76.7" cy="2725.6"/></g><g id="c94i"><circle cx="76.7" cy="2745.9"/></g><g id="c94j"><circle cx="76.7" cy="2766.2"/></g>
<g id="c95a"><circle cx="110" cy="2583.8"/></g><g id="c95b"><circle cx="110" cy="2604"/></g><g id="c95c"><circle cx="110" cy="2624.3"/></g><g id="c95d"><circle cx="110" cy="2644.6"/></g><g id="c95e"><circle cx="110" cy="2664.8"/></g><g id="c95f"><circle cx="110" cy="2685.1"/></g><g id="c95g"><circle cx="110" cy="2705.4"/></g><g id="c95h"><circle cx="110" cy="2725.6"/></g>
<g id="c96a"><circle cx="143.3" cy="2664.8"/></g><g id="c96b"><circle cx="143.3" cy="2685.1"/></g>
<g id="c97a"><circle cx="60.3" cy="2786.4"/></g><g id="c97b"><circle cx="60.3" cy="2806.7"/></g><g id="c97c"><circle cx="60.3" cy="2827"/></g><g id="c97d"><circle cx="60.3" cy="2847.2"/></g>
<g id="c98a"><circle cx="94" cy="2786.4"/></g><g id="c98b"><circle cx="94" cy="2806.7"/></g><g id="c98c"><circle cx="94" cy="2827"/></g><g id="c98d"><circle cx="94" cy="2847.2"/></g>
<g id="c99a"><circle cx="44.7" cy="2867.5"/></g><g id="c99b"><circle cx="44.7" cy="2887.8"/></g><g id="c99c"><circle cx="44.7" cy="2908"/></g><g id="c99d"><circle cx="44.7" cy="2928.3"/></g><g id="c99e"><circle cx="44.7" cy="2948.6"/></g><g id="c99f"><circle cx="44.7" cy="2968.8"/></g>
<g id="c100a"><circle cx="78" cy="2867.5"/></g><g id="c100b"><circle cx="78" cy="2887.8"/></g><g id="c100c"><circle cx="78" cy="2908"/></g><g id="c100d"><circle cx="78" cy="2928.3"/></g>
<g id="c101a"><circle cx="28.7" cy="2989.1"/></g><g id="c101b"><circle cx="28.7" cy="3009.4"/></g>
<g id="c102a"><circle cx="62" cy="2989.1"/></g><g id="c102b"><circle cx="62" cy="3009.4"/></g><g id="c102c"><circle cx="62" cy="3029.6"/></g><g id="c102d"><circle cx="62" cy="3049.9"/></g>
<g id="c103a"><circle cx="111.3" cy="2908"/></g><g id="c103b"><circle cx="111.3" cy="2928.3"/></g><g id="c103c"><circle cx="111.3" cy="2948.6"/></g><g id="c103d"><circle cx="111.3" cy="2968.8"/></g><g id="c103e"><circle cx="111.3" cy="2989.1"/></g><g id="c103f"><circle cx="111.3" cy="3009.4"/></g><g id="c103g"><circle cx="111.3" cy="3029.6"/></g><g id="c103h"><circle cx="111.3" cy="3049.9"/></g>
<g id="c104a"><circle cx="94" cy="3070.2"/></g><g id="c104b"><circle cx="94" cy="3090.4"/></g><g id="c104c"><circle cx="94" cy="3110.7"/></g><g id="c104d"><circle cx="94" cy="3131"/></g>
<g id="c105a"><circle cx="127.3" cy="3070.2"/></g><g id="c105b"><circle cx="127.3" cy="3090.4"/></g>
</g>
</svg>
